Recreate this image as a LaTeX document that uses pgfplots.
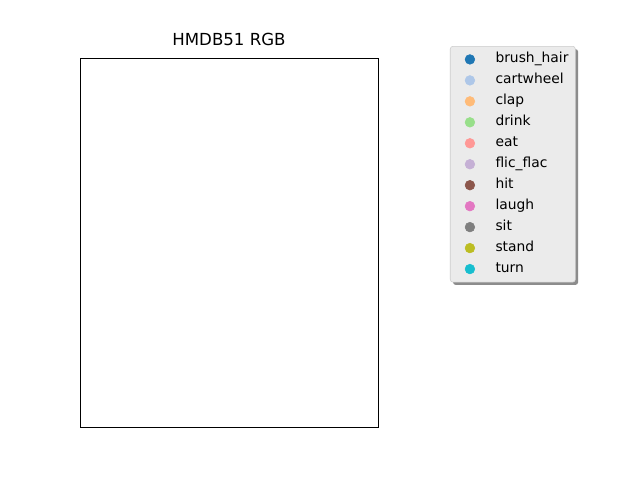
\documentclass[border=0pt]{standalone}
\usepackage{pgfplots}
\pgfplotsset{compat=1.18}
\usepackage{fontspec}
\setmainfont{DejaVu Sans}
\usetikzlibrary{shadows}
\definecolor{c1}{HTML}{1F77B4}
\definecolor{c2}{HTML}{AEC7E8}
\definecolor{c3}{HTML}{FFBB78}
\definecolor{c4}{HTML}{98DF8A}
\definecolor{c5}{HTML}{FF9896}
\definecolor{c6}{HTML}{C5B0D5}
\definecolor{c7}{HTML}{8C564B}
\definecolor{c8}{HTML}{E377C2}
\definecolor{c9}{HTML}{7F7F7F}
\definecolor{c10}{HTML}{BCBD22}
\definecolor{c11}{HTML}{17BECF}
\begin{document}
\begin{tikzpicture}
\path[use as bounding box, fill=white] (0in,0in) rectangle (6.4in,4.8in);
\begin{axis}[
  at={(0.8in,0.53in)}, anchor=south west,
  scale only axis, width=2.98in, height=3.69in,
  xmin=0, xmax=1, ymin=0, ymax=1,
  xtick=\empty, ytick=\empty,
  title={HMDB51 RGB},
  title style={font=\fontsize{12}{14}\selectfont, yshift=-1pt},
  legend style={at={(1.2416,1.0325)}, anchor=north west,
    fill=black!8, draw=black!20, rounded corners=2pt,
    font=\fontsize{10}{12}\selectfont,
    drop shadow={shadow xshift=2pt, shadow yshift=-2pt, fill=black!45, opacity=1},
    inner xsep=3pt, inner ysep=2.5pt,
    row sep=1.15pt,
    nodes={inner sep=2pt, text depth=0.25em, text height=0.75em},
  },
  legend cell align=left,
  legend image code/.code={%
    \pgfpathrectangle{\pgfpoint{-11.2pt}{-1pt}}{\pgfpoint{27.7pt}{2pt}}\pgfusepath{use as bounding box}%
    \draw[#1] plot[only marks] coordinates {(0pt,0pt)};},
]
\addlegendimage{only marks, mark=*, mark size=3.5pt, c1}
\addlegendentry{brush\_hair}
\addlegendimage{only marks, mark=*, mark size=3.5pt, c2}
\addlegendentry{cartwheel}
\addlegendimage{only marks, mark=*, mark size=3.5pt, c3}
\addlegendentry{clap}
\addlegendimage{only marks, mark=*, mark size=3.5pt, c4}
\addlegendentry{drink}
\addlegendimage{only marks, mark=*, mark size=3.5pt, c5}
\addlegendentry{eat}
\addlegendimage{only marks, mark=*, mark size=3.5pt, c6}
\addlegendentry{flic\_flac}
\addlegendimage{only marks, mark=*, mark size=3.5pt, c7}
\addlegendentry{hit}
\addlegendimage{only marks, mark=*, mark size=3.5pt, c8}
\addlegendentry{laugh}
\addlegendimage{only marks, mark=*, mark size=3.5pt, c9}
\addlegendentry{sit}
\addlegendimage{only marks, mark=*, mark size=3.5pt, c10}
\addlegendentry{stand}
\addlegendimage{only marks, mark=*, mark size=3.5pt, c11}
\addlegendentry{turn}
\end{axis}
\end{tikzpicture}
\end{document}
